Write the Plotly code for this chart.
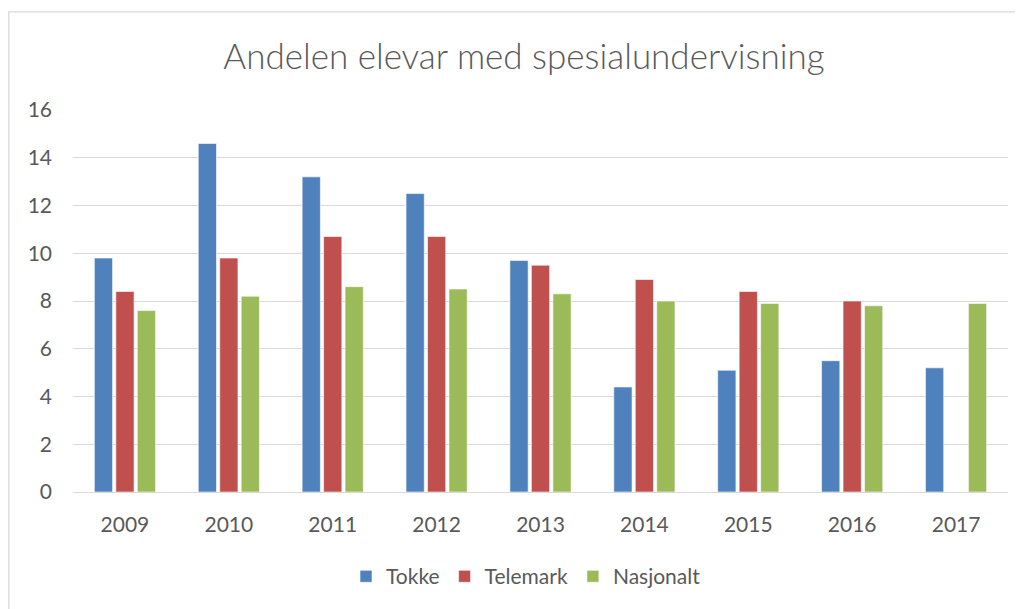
import plotly.graph_objects as go

years = ["2009", "2010", "2011", "2012", "2013", "2014", "2015", "2016", "2017"]
tokke = [9.8, 14.6, 13.2, 12.5, 9.7, 4.4, 5.1, 5.5, 5.2]
telemark = [8.4, 9.8, 10.7, 10.7, 9.5, 8.9, 8.4, 8.0, None]
nasjonalt = [7.6, 8.2, 8.6, 8.5, 8.3, 8.0, 7.9, 7.8, 7.9]
y_ticks = [0, 2, 4, 6, 8, 10, 12, 14, 16]

W, H = 1023, 609
OFF = 8  # page body margin of the browser
L, R, T, B = 72.7 - OFF, 1008.3 - OFF, 110.0 - OFF, 492.3 - OFF
pw, ph = R - L, B - T

def px_x(p):
    return (p - OFF - L) / pw

def px_y(p):
    return (B - (p - OFF)) / ph

font_fam = "Lato, 'Open Sans', sans-serif"
txt = "#595959"

fig = go.Figure()
for name, vals, col in [("Tokke", tokke, "#4F81BD"),
                        ("Telemark", telemark, "#C0504D"),
                        ("Nasjonalt", nasjonalt, "#9BBB59")]:
    fig.add_trace(go.Bar(x=years, y=vals, name=name,
                         marker=dict(color=col, line=dict(color="rgba(255,255,255,0.6)", width=1))))

fig.update_layout(
    width=W, height=H,
    margin=dict(l=L, r=W - R, t=T, b=H - B, autoexpand=False),
    paper_bgcolor="white", plot_bgcolor="white",
    barmode="group", bargap=0.38, bargroupgap=0.15,
    title=dict(text="Andelen elevar med spesialundervisning",
               x=(524 - OFF) / W, xanchor="center", xref="container",
               y=1 - (57 - OFF) / H, yanchor="middle", yref="container",
               font=dict(family=font_fam, size=35, color=txt, weight=300)),
    font=dict(family=font_fam, color=txt, size=20),
    legend=dict(orientation="h", x=px_x(526), xanchor="center",
                y=px_y(577), yanchor="middle",
                font=dict(size=21, color=txt), traceorder="normal"),
    showlegend=True,
)
fig.update_yaxes(range=[0, 16], tickvals=y_ticks, showgrid=True,
                 gridcolor="#d9d9d9", gridwidth=1.3, zeroline=False,
                 showline=False, ticklabelstandoff=20,
                 tickfont=dict(size=21, color=txt))
fig.update_xaxes(showline=True, linecolor="#d9d9d9", linewidth=1.3,
                 showgrid=False, ticklabelstandoff=14,
                 tickfont=dict(size=21, color=txt))

fig.add_shape(type="rect", xref="paper", yref="paper",
              x0=px_x(8.5), x1=px_x(1021), y0=px_y(640), y1=px_y(11.7),
              line=dict(color="#d9d9d9", width=1.3), fillcolor="rgba(0,0,0,0)",
              layer="below")

fig.write_html("out.html")
